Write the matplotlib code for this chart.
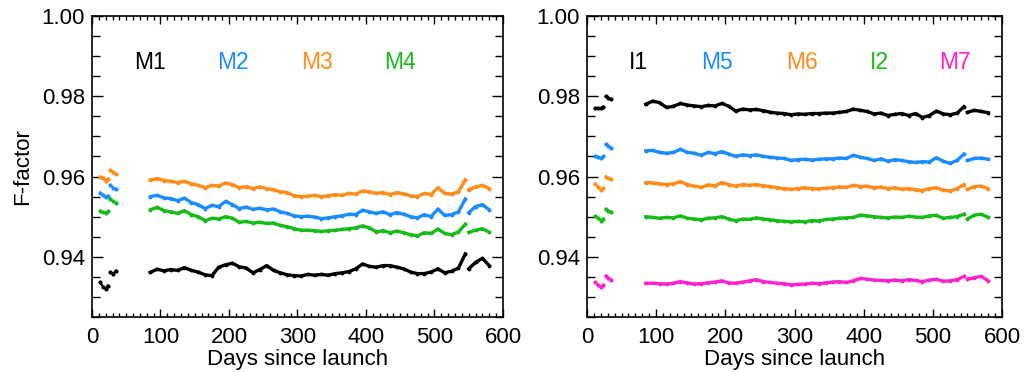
import numpy as np
import matplotlib
matplotlib.use("Agg")
import matplotlib.pyplot as plt
from matplotlib.ticker import MultipleLocator

plt.rcParams['font.family'] = ['Liberation Sans', 'DejaVu Sans']

# sampling days: early orbit checkout, nominal operations, and after the last update
early_days = [12, 16, 20, 23, 27, 31, 35]
main_days = list(range(85, 546, 10))
tail_days = [550, 560, 570, 580]

# ---- left panel: M1-M4 ----
m1_early = [.9336, .9325, .9320, .9328, .9361, .9358, .9365]
m1_main = [.9361, .9369, .9365, .9368, .9366, .9373, .9366, .9362, .9355, .9353,
           .9374, .9380, .9384, .9375, .9372, .9360, .9368, .9378, .9366, .9360,
           .9355, .9353, .9352, .9356, .9354, .9356, .9354, .9358, .9360, .9363,
           .9370, .9382, .9376, .9374, .9378, .9378, .9374, .9370, .9362, .9358,
           .9358, .9362, .9370, .9360, .9364, .9372, .9407]
m1_tail = [.9370, .9386, .9396, .9378]

m2_early = [.9560, .9553, .9548, .9552, .9578, .9572, .9568]
m2_main = [.9550, .9553, .9547, .9545, .9540, .9546, .9535, .9530, .9520, .9528,
           .9525, .9538, .9530, .9520, .9524, .9518, .9521, .9517, .9519, .9512,
           .9508, .9502, .9500, .9501, .9499, .9495, .9497, .9500, .9502, .9506,
           .9505, .9516, .9512, .9508, .9512, .9505, .9510, .9506, .9500, .9497,
           .9505, .9500, .9519, .9503, .9505, .9512, .9544]
m2_tail = [.9510, .9525, .9530, .9517]

m3_early = [.9600, .9596, .9590, .9594, .9615, .9610, .9605]
m3_main = [.9591, .9595, .9590, .9588, .9585, .9588, .9582, .9578, .9572, .9578,
           .9576, .9584, .9580, .9572, .9575, .9570, .9574, .9570, .9567, .9562,
           .9560, .9552, .9550, .9551, .9553, .9550, .9552, .9555, .9553, .9558,
           .9556, .9564, .9562, .9558, .9560, .9555, .9560, .9557, .9552, .9550,
           .9558, .9555, .9572, .9558, .9556, .9562, .9592]
m3_tail = [.9567, .9574, .9578, .9570]

m4_early = [.9515, .9511, .9510, .9513, .9545, .9538, .9535]
m4_main = [.9517, .9523, .9515, .9512, .9508, .9515, .9505, .9500, .9490, .9496,
           .9494, .9500, .9496, .9486, .9488, .9484, .9486, .9483, .9484, .9478,
           .9475, .9470, .9466, .9466, .9465, .9463, .9465, .9466, .9468, .9470,
           .9472, .9477, .9472, .9462, .9465, .9460, .9464, .9460, .9455, .9452,
           .9460, .9458, .9469, .9458, .9455, .9462, .9481]
m4_tail = [.9461, .9466, .9470, .9461]

# ---- right panel: I1, M5, M6, I2, M7 ----
i1_early = [.9770, .9770, .9770, .9774, .9800, .9796, .9792]
i1_main = [.9780, .9788, .9784, .9772, .9775, .9782, .9778, .9776, .9774, .9777,
           .9776, .9782, .9775, .9763, .9768, .9766, .9767, .9764, .9760, .9758,
           .9757, .9754, .9756, .9755, .9757, .9757, .9758, .9758, .9760, .9762,
           .9768, .9765, .9762, .9756, .9758, .9752, .9755, .9757, .9752, .9757,
           .9747, .9752, .9763, .9756, .9754, .9758, .9774]
i1_tail = [.9760, .9765, .9762, .9759]

m5_early = [.9651, .9648, .9645, .9650, .9680, .9675, .9672]
m5_main = [.9664, .9665, .9660, .9658, .9660, .9668, .9660, .9658, .9653, .9660,
           .9657, .9662, .9656, .9650, .9654, .9652, .9654, .9650, .9648, .9646,
           .9645, .9640, .9642, .9643, .9641, .9643, .9644, .9644, .9646, .9645,
           .9653, .9648, .9645, .9640, .9644, .9638, .9642, .9640, .9637, .9635,
           .9637, .9636, .9647, .9638, .9633, .9640, .9656]
m5_tail = [.9640, .9645, .9646, .9643]

m6_early = [.9581, .9575, .9567, .9572, .9600, .9596, .9593]
m6_main = [.9585, .9584, .9582, .9580, .9582, .9587, .9580, .9576, .9573, .9579,
           .9577, .9585, .9580, .9576, .9580, .9578, .9580, .9577, .9575, .9572,
           .9570, .9568, .9570, .9572, .9570, .9569, .9571, .9572, .9574, .9573,
           .9578, .9575, .9576, .9572, .9574, .9570, .9572, .9568, .9570, .9567,
           .9565, .9570, .9572, .9566, .9564, .9570, .9580]
m6_tail = [.9568, .9575, .9576, .9570]

i2_early = [.9502, .9497, .9490, .9495, .9519, .9515, .9512]
i2_main = [.9500, .9498, .9496, .9498, .9497, .9502, .9496, .9494, .9492, .9496,
           .9497, .9500, .9494, .9490, .9494, .9493, .9497, .9494, .9492, .9490,
           .9488, .9487, .9488, .9487, .9490, .9489, .9493, .9494, .9496, .9497,
           .9498, .9504, .9502, .9500, .9498, .9497, .9499, .9498, .9501, .9499,
           .9498, .9502, .9503, .9496, .9498, .9500, .9506]
i2_tail = [.9494, .9504, .9506, .9498]

m7_early = [.9336, .9330, .9324, .9330, .9353, .9347, .9343]
m7_main = [.9334, .9334, .9333, .9332, .9334, .9338, .9335, .9332, .9333, .9335,
           .9337, .9340, .9335, .9334, .9337, .9340, .9343, .9338, .9336, .9334,
           .9333, .9330, .9331, .9332, .9334, .9333, .9335, .9337, .9338, .9336,
           .9340, .9346, .9344, .9342, .9341, .9340, .9342, .9340, .9343, .9341,
           .9338, .9342, .9344, .9339, .9340, .9343, .9351]
m7_tail = [.9344, .9348, .9351, .9340]

BLACK = 'black'
BLUE = '#1a8cff'
ORANGE = '#ff8c1a'
GREEN = '#17bb17'
MAGENTA = '#ff22cc'

left_bands = [
    ('M1', BLACK, m1_early, m1_main, m1_tail, 85),
    ('M2', BLUE, m2_early, m2_main, m2_tail, 206),
    ('M3', ORANGE, m3_early, m3_main, m3_tail, 329),
    ('M4', GREEN, m4_early, m4_main, m4_tail, 450),
]
right_bands = [
    ('I1', BLACK, i1_early, i1_main, i1_tail, 74),
    ('M5', BLUE, m5_early, m5_main, m5_tail, 188),
    ('M6', ORANGE, m6_early, m6_main, m6_tail, 311),
    ('I2', GREEN, i2_early, i2_main, i2_tail, 422),
    ('M7', MAGENTA, m7_early, m7_main, m7_tail, 532),
]

FS = 16


def draw_band(ax, color, early, main, tail):
    # early points come in two short bursts
    ax.plot(early_days[:4], early[:4], color=color, lw=1.6, marker='.', ms=4)
    ax.plot(early_days[4:], early[4:], color=color, lw=1.6, marker='.', ms=4)
    ax.plot(main_days, main, color=color, lw=2.4, marker='.', ms=3.5)
    ax.plot(tail_days, tail, color=color, lw=2.4, marker='.', ms=3.5)


def style_axes(ax):
    ax.set_xlim(0, 600)
    ax.set_ylim(0.925, 1.0)
    ax.xaxis.set_major_locator(MultipleLocator(100))
    ax.xaxis.set_minor_locator(MultipleLocator(10))
    ax.yaxis.set_major_locator(MultipleLocator(0.02))
    ax.yaxis.set_minor_locator(MultipleLocator(0.005))
    ax.yaxis.set_major_formatter(matplotlib.ticker.FormatStrFormatter('%.2f'))
    ax.tick_params(which='both', direction='in', top=True, right=True,
                   labelsize=FS, width=1.0)
    ax.tick_params(axis='x', which='major', length=6, pad=7)
    ax.tick_params(axis='x', which='minor', length=3)
    ax.tick_params(axis='y', which='major', length=8, pad=5)
    ax.tick_params(axis='y', which='minor', length=6)
    for spine in ax.spines.values():
        spine.set_linewidth(1.2)
    ax.set_xlabel('Days since launch', fontsize=FS, labelpad=1)


fig = plt.figure(figsize=(10.36, 3.72), dpi=100)
ax1 = fig.add_axes([0.0888, 0.148, 0.3967, 0.809])
ax2 = fig.add_axes([0.5666, 0.148, 0.4006, 0.809])

for ax, bands in ((ax1, left_bands), (ax2, right_bands)):
    for name, color, early, main, tail, xpos in bands:
        draw_band(ax, color, early, main, tail)
        ax.text(xpos, 0.9885, name, color=color, fontsize=16.5,
                ha='center', va='center')
    style_axes(ax)

ax1.set_ylabel('F-factor', fontsize=FS, labelpad=6)

fig.savefig('out.png', dpi=100)
